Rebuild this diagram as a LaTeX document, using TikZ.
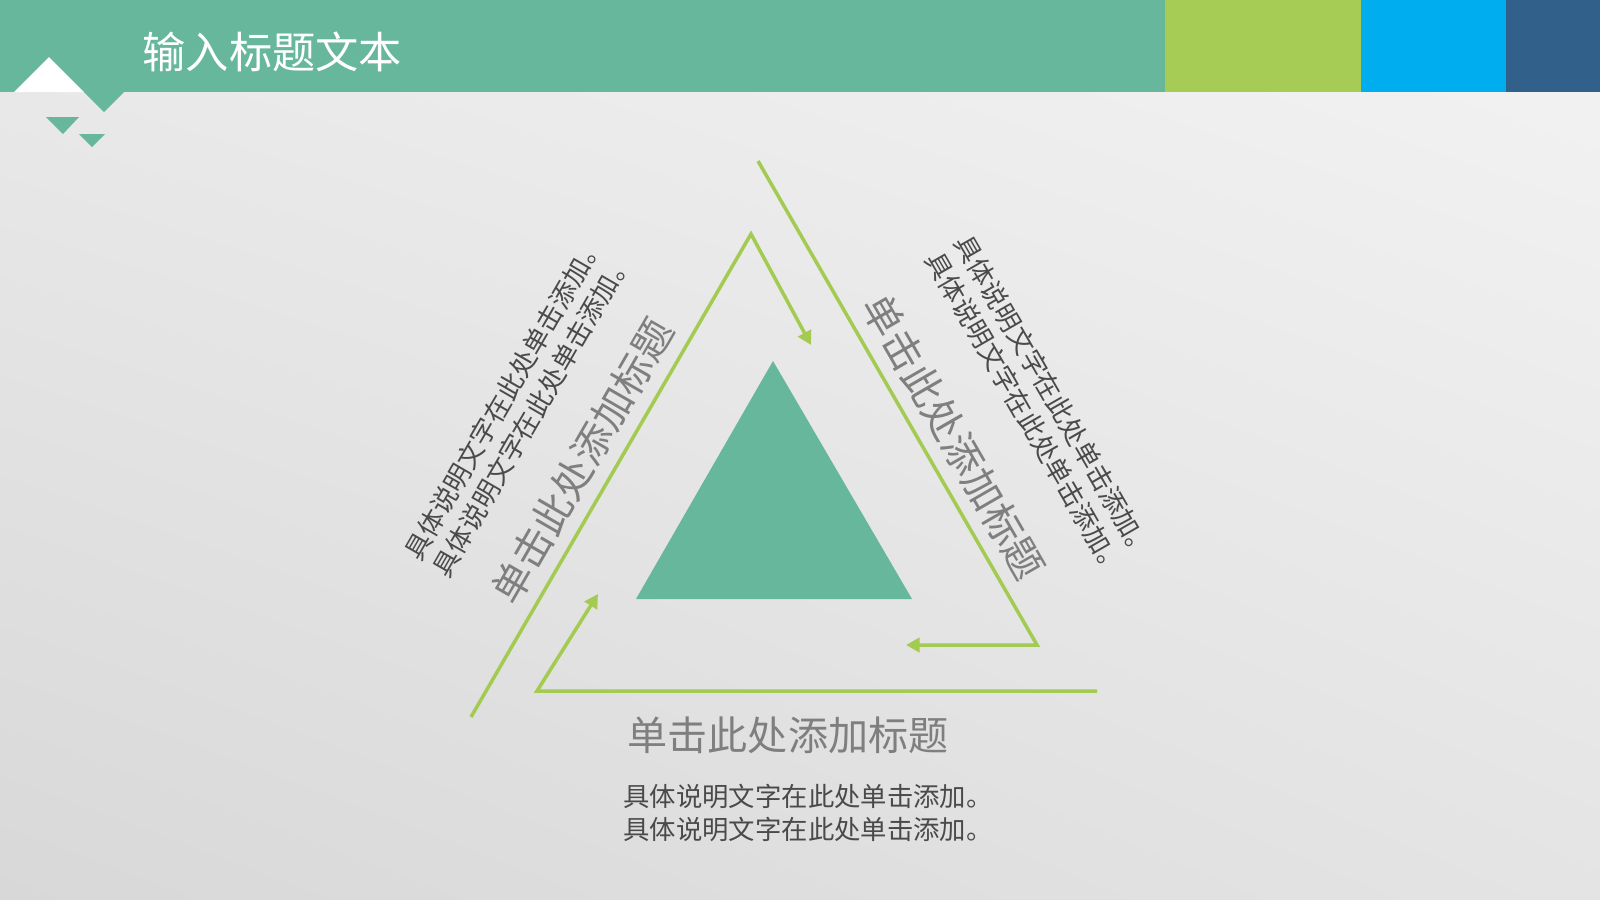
\documentclass[tikz,border=0pt]{standalone}
\usepackage{fontspec}
\newfontfamily\cjk{Noto Sans CJK SC}
\usetikzlibrary{arrows.meta,shadings}
\definecolor{tealc}{HTML}{66B79B}
\definecolor{limec}{HTML}{A6CC56}
\definecolor{bluec}{HTML}{00ADEF}
\definecolor{navyc}{HTML}{31608A}
\definecolor{linec}{HTML}{A3CB52}
\definecolor{titlegray}{HTML}{7F7F7F}
\definecolor{bodygray}{HTML}{4A4A4A}
\definecolor{bgul}{HTML}{EAEAEA}
\definecolor{bgur}{HTML}{F3F3F3}
\definecolor{bgll}{HTML}{D8D8D8}
\definecolor{bglr}{HTML}{E4E4E4}
\tikzset{
  flow/.style={draw=linec, line width=1pt, -{Triangle[length=3.9pt,width=4.1pt]}},
  sidetitle/.style={inner sep=0pt, text=titlegray, font=\cjk\fontsize{11.4pt}{13pt}\selectfont},
  sidebody/.style={inner sep=0pt, text=bodygray, align=center, font=\cjk\fontsize{7.5pt}{9.4pt}\selectfont},
}
\begin{document}
\begin{tikzpicture}[x=0.01cm,y=-0.01cm]
\useasboundingbox (0,0) rectangle (1600,900);
% background
\shade[upper left=bgul, upper right=bgur, lower left=bgll, lower right=bglr]
  (0,0) rectangle (1600,900);
% header bar
\fill[tealc] (0,0) rectangle (1165,92);
\fill[limec] (1165,0) rectangle (1361,92);
\fill[bluec] (1361,0) rectangle (1506,92);
\fill[navyc] (1506,0) rectangle (1600,92);
\fill[white] (14,92) -- (49,57) -- (84,92) -- cycle;
\fill[tealc] (84,92) -- (104,112) -- (124,92) -- cycle;
\fill[tealc] (46,117) -- (79,117) -- (63,134) -- cycle;
\fill[tealc] (79,134) -- (105,134) -- (92,147) -- cycle;
\node[anchor=west, inner sep=0pt, text=white, font=\cjk\fontsize{12.3pt}{14pt}\selectfont] (title) at (142,52) {输入标题文本};
% central triangle
\fill[tealc] (773,361) -- (912,599) -- (636,599) -- cycle;
% arrows
\coordinate (a0) at (471,717);
\coordinate (a1) at (751,234);
\coordinate (a2) at (811,345);
\coordinate (b0) at (758,161);
\coordinate (b1) at (1037,645);
\coordinate (b2) at (906,645);
\coordinate (c0) at (1097,691);
\coordinate (c1) at (537,691);
\coordinate (c2) at (598,594);
\draw[flow] (a0) -- (a1) -- (a2);
\draw[flow] (b0) -- (b1) -- (b2);
\draw[flow] (c0) -- (c1) -- (c2);
% texts
\node[sidetitle, rotate=60] (lt) at (582,461) {单击此处添加标题};
\node[sidebody, rotate=60] (lb) at (518,406) {具体说明文字在此处单击添加。\\具体说明文字在此处单击添加。};
\node[sidetitle, rotate=-60] (rt) at (954,437) {单击此处添加标题};
\node[sidebody, rotate=-60] (rb) at (1040,406) {具体说明文字在此处单击添加。\\具体说明文字在此处单击添加。};
\node[sidetitle] (bt) at (788,735) {单击此处添加标题};
\node[sidebody] (bb) at (808,813) {具体说明文字在此处单击添加。\\具体说明文字在此处单击添加。};
\end{tikzpicture}
\end{document}
